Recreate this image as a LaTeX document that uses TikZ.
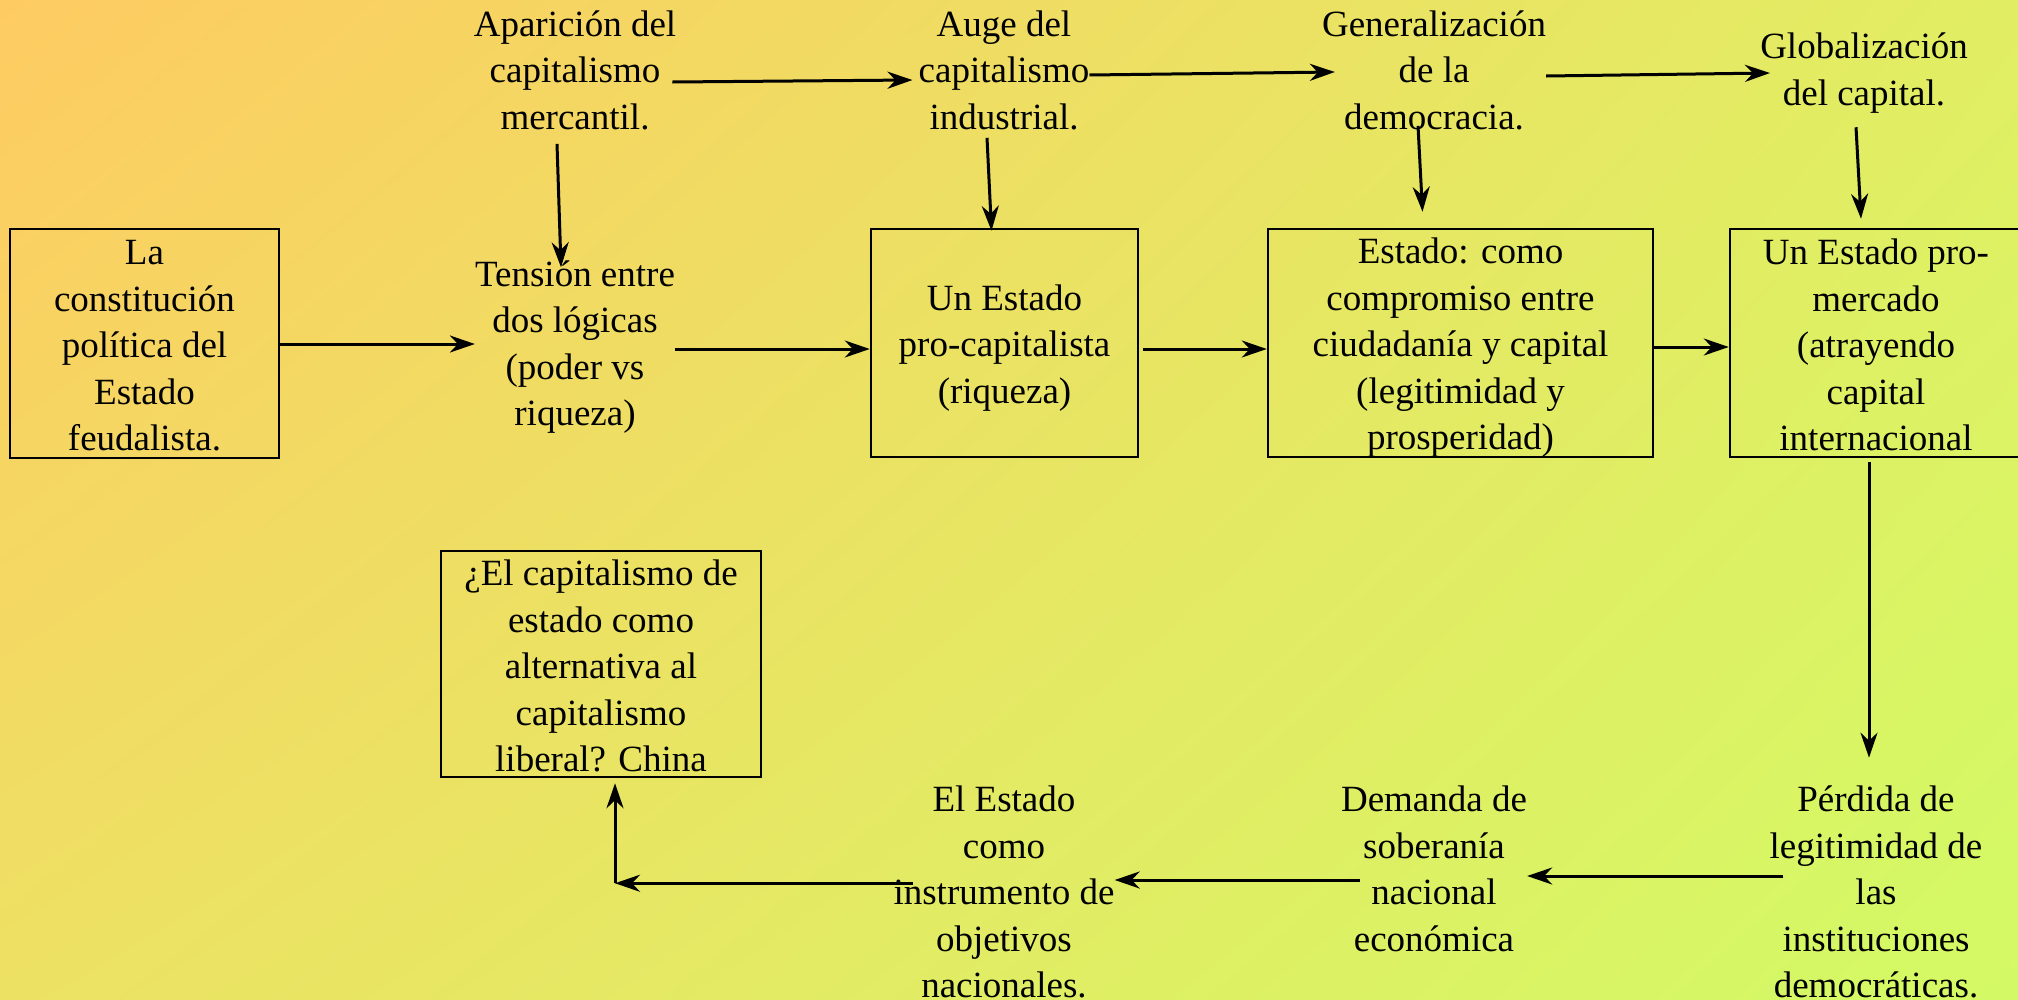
\documentclass[tikz,border=0pt]{standalone}
\usepackage{fontspec}
\setmainfont{Liberation Serif}
\usetikzlibrary{arrows.meta,calc,shadings}
\newcommand\diafont{\fontsize{37pt}{46.5pt}\selectfont}
\definecolor{bgTL}{HTML}{FECB62}
\definecolor{bgTR}{HTML}{E1EE63}
\definecolor{bgBL}{HTML}{EDE163}
\definecolor{bgBR}{HTML}{D3FA65}
\tikzset{
  txt/.style={align=center, inner sep=0pt, font=\diafont},
  box/.style={draw, line width=2.5pt, inner sep=0pt},
  arr/.style={-{Stealth[length=25pt,width=17pt,inset=8pt]}, line width=3pt},
}
\begin{document}
\begin{tikzpicture}[x=1pt,y=-1pt]
\useasboundingbox (0,0) rectangle (2018,999);
\clip (0,0) rectangle (2018,999);
\shade[upper left=bgTL, upper right=bgTR, lower left=bgBL, lower right=bgBR] (0,0) rectangle (2018,999);

% row 1
\node[txt] (apar) at (575,70) {Aparición del\\capitalismo\\mercantil.};
\node[txt] (auge) at (1004,70) {Auge del\\capitalismo\\industrial.};
\node[txt] (gen) at (1434,70) {Generalización\\de la\\democracia.};
\node[txt] (glob) at (1864,73) {Globalización\\del capital.};

% row 2
\node[box, minimum width=269pt, minimum height=229pt] (feud) at (144.5,343.5) {};
\node[txt] (feudt) at (144.5,346) {La\\constitución\\política del\\Estado\\feudalista.};
\node[txt] (tens) at (575,347) {Tensión entre\\dos lógicas\\(poder vs\\riqueza)};
\node[box, minimum width=267pt, minimum height=228pt] (procap) at (1004.5,343) {};
\node[txt] (procapt) at (1004.5,348) {Un Estado\\pro-capitalista\\(riqueza)};
\node[box, minimum width=385pt, minimum height=228pt] (comp) at (1460.5,343) {};
\node[txt] (compt) at (1460.5,348) {Estado: como\\compromiso entre\\ciudadanía y capital\\(legitimidad y\\prosperidad)};
\node[box, minimum width=292pt, minimum height=228pt] (promer) at (1876,343) {};
\node[txt] (promert) at (1876,345) {Un Estado pro-\\mercado\\(atrayendo\\capital\\internacional};

% row 3
\node[box, minimum width=320pt, minimum height=226pt] (china) at (601,664) {};
\node[txt] (chinat) at (601,666) {¿El capitalismo de\\estado como\\alternativa al\\capitalismo\\liberal? China};
\node[txt] (inst) at (1004,892) {El Estado\\como\\instrumento de\\objetivos\\nacionales.};
\node[txt] (dem) at (1434,869) {Demanda de\\soberanía\\nacional\\económica};
\node[txt] (perd) at (1876,892) {Pérdida de\\legitimidad de\\las\\instituciones\\democráticas.};

% horizontal arrows, row 1
\draw[arr] ($(apar.east |- 0,82)+(-4,0)$) -- ($(auge.west |- 0,80)+(-6,0)$);
\draw[arr] (auge.east |- 0,75) -- ($(gen.west |- 0,72)+(13,0)$);
\draw[arr] (gen.east |- 0,76) -- ($(glob.west |- 0,73)+(10,0)$);

% vertical arrows
\draw[arr] ($(apar.south)+(-18,14)$) -- ($(tens.north)+(-14,7)$);
\draw[arr] ($(auge.south)+(-17,8)$) -- ($(procap.north)+(-13,3)$);
\draw[arr] ($(gen.south)+(-16,-4)$) -- ($(comp.north)+(-38,-16)$);
\draw[arr] ($(glob.south)+(-8,14)$) -- ($(promer.north)+(-15,-9)$);

% horizontal arrows, row 2
\draw[arr] (feud.east |- 0,344) -- (tens.west |- 0,344);
\draw[arr] (tens.east |- 0,349) -- (procap.west |- 0,349);
\draw[arr] ($(procap.east |- 0,349)+(4,0)$) -- (comp.west |- 0,349);
\draw[arr] (comp.east |- 0,347) -- (promer.west |- 0,347);

% right column down
\draw[arr] ($(promer.south)+(-7,4)$) -- ($(perd.north)+(-7,-28)$);

% bottom row
\draw[arr] ($(perd.west |- 0,876)+(14,0)$) -- (dem.east |- 0,876);
\draw[arr] ($(dem.west |- 0,880)+(19,0)$) -- (inst.east |- 0,880);
\coordinate (corner) at ($(china.south)+(14,105)$);
\draw[arr] ($(inst.west |- corner)+(20,0)$) -- (corner);
\draw[arr] (corner) -- ($(china.south)+(14,5)$);
\end{tikzpicture}
\end{document}
